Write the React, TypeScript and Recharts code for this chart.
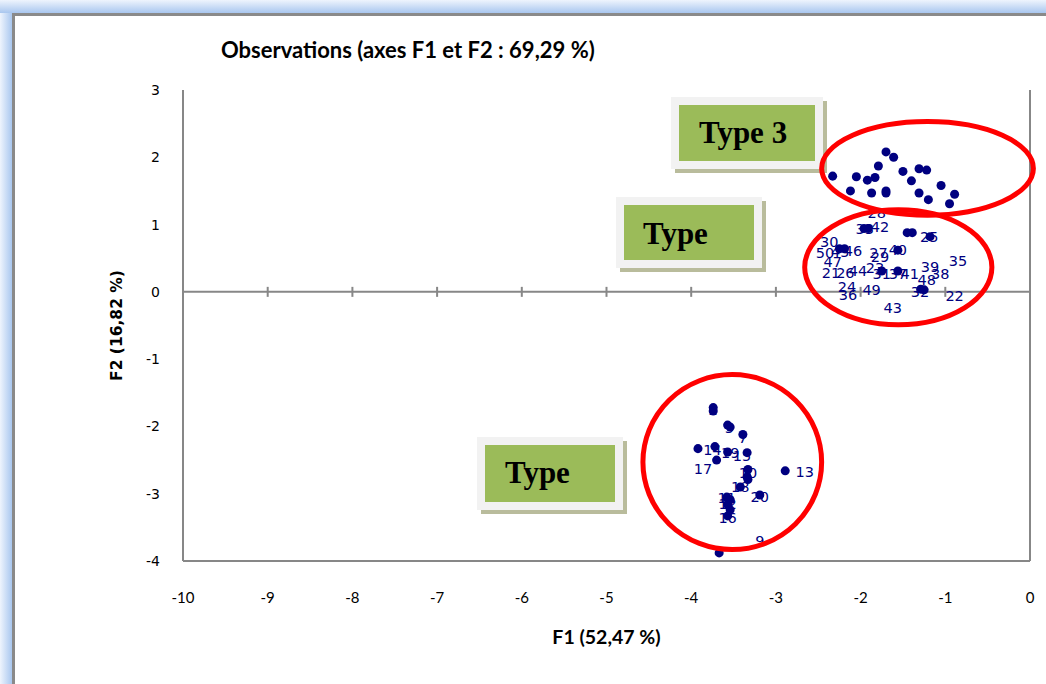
import React from 'react';
import {
  ScatterChart,
  Scatter,
  XAxis,
  YAxis,
  ReferenceLine,
  ReferenceArea,
} from 'recharts';

// axis ticks
const f1Ticks = [-10, -9, -8, -7, -6, -5, -4, -3, -2, -1, 0];
const f2Ticks = [-4, -3, -2, -1, 0, 1, 2, 3];
const innerF1Ticks = [-9, -8, -7, -6, -5, -4, -3, -2, -1];

// observations drawn as dots [F1, F2]
const type3Dots = [
  [-1.7, 2.08], [-1.61, 2.0], [-1.79, 1.87], [-2.33, 1.72], [-2.05, 1.71],
  [-1.92, 1.66], [-1.83, 1.7], [-1.5, 1.79], [-1.31, 1.83], [-1.22, 1.81],
  [-1.4, 1.65], [-1.05, 1.58], [-2.12, 1.5], [-1.87, 1.47], [-1.7, 1.5],
  [-1.7, 1.47], [-1.31, 1.47], [-1.2, 1.37], [-0.89, 1.45], [-0.95, 1.31],
];
const type2Dots = [
  [-1.96, 0.94], [-1.91, 0.94], [-1.45, 0.88], [-1.39, 0.88], [-1.18, 0.82],
  [-2.25, 0.64], [-2.19, 0.64], [-1.56, 0.62], [-1.75, 0.31], [-1.56, 0.31],
  [-1.29, 0.04], [-1.25, 0.03],
];
const type1Dots = [
  [-3.74, -1.72], [-3.74, -1.77], [-3.57, -1.98], [-3.54, -2.01], [-3.39, -2.12],
  [-3.92, -2.33], [-3.72, -2.3], [-3.57, -2.38], [-3.34, -2.39], [-3.7, -2.5],
  [-2.89, -2.66], [-3.33, -2.64], [-3.34, -2.75], [-3.33, -2.79], [-3.42, -2.9],
  [-3.19, -3.02], [-3.58, -3.05], [-3.54, -3.09], [-3.57, -3.16], [-3.54, -3.24],
  [-3.57, -3.33], [-3.67, -3.88],
];

// observation labels [name, F1, F2]
const type2Labels = [
  ['28', -1.81, 1.17], ['33', -1.95, 0.94], ['42', -1.77, 0.97], ['25', -1.19, 0.82],
  ['30', -2.37, 0.74], ['50', -2.42, 0.58], ['45', -2.24, 0.59], ['46', -2.09, 0.61],
  ['27', -1.79, 0.58], ['40', -1.56, 0.62], ['29', -1.77, 0.52], ['35', -0.85, 0.46],
  ['47', -2.33, 0.45], ['39', -1.18, 0.37], ['38', -1.06, 0.27], ['21', -2.35, 0.28],
  ['26', -2.18, 0.28], ['44', -2.03, 0.31], ['23', -1.83, 0.36], ['31', -1.75, 0.27],
  ['37', -1.56, 0.27], ['41', -1.42, 0.27], ['48', -1.22, 0.18], ['24', -2.16, 0.07],
  ['49', -1.87, 0.03], ['32', -1.3, 0.0], ['22', -0.89, -0.06], ['36', -2.15, -0.04],
  ['43', -1.62, -0.24],
];
const type1Labels = [
  ['2', -3.74, -1.75], ['5', -3.55, -2.03], ['7', -3.39, -2.17], ['14', -3.75, -2.35],
  ['19', -3.54, -2.39], ['15', -3.4, -2.44], ['17', -3.86, -2.64], ['10', -3.33, -2.69],
  ['13', -2.66, -2.67], ['18', -3.42, -2.9], ['20', -3.19, -3.05], ['11', -3.58, -3.06],
  ['12', -3.57, -3.16], ['16', -3.57, -3.36], ['9', -3.19, -3.71],
];

// red group outlines [f1 min, f1 max, f2 min, f2 max]
const groupOutlines = [
  [-2.46, 0.04, 1.14, 2.53],
  [-2.66, -0.45, -0.49, 1.22],
  [-4.57, -2.46, -3.83, -1.23],
];

const toPoints = (arr: number[][]) => arr.map(([x, y]) => ({ x, y }));
const toLabels = (arr: (string | number)[][]) =>
  arr.map(([name, x, y]) => ({ name, x, y }));

const AXIS = '#878787';
const NAVY = '#000080';

const LabelMark = (props: any) => (
  <text
    x={props.cx}
    y={props.cy}
    textAnchor="middle"
    dominantBaseline="central"
    fontFamily="DejaVu Sans, sans-serif"
    fontSize={14.5}
    fill={NAVY}
  >
    {props.payload.name}
  </text>
);

const ZeroTick = (props: any) => (
  <line x1={props.cx} x2={props.cx} y1={props.cy - 5} y2={props.cy + 5} stroke={AXIS} strokeWidth={2} />
);

const RightTick = (props: any) => (
  <line x1={props.x - 6} x2={props.x + 6} y1={props.y} y2={props.y} stroke={AXIS} strokeWidth={2} />
);

const OutlineShape = (props: any) => (
  <ellipse
    cx={props.x + props.width / 2}
    cy={props.y + props.height / 2}
    rx={props.width / 2}
    ry={props.height / 2}
    fill="none"
    stroke="#ff0000"
    strokeWidth={5}
  />
);

const XTitle = (props: any) => {
  const { x, y, width } = props.viewBox;
  return (
    <text x={x + width / 2} y={y + 83} textAnchor="middle" fontFamily="Lato, sans-serif" fontWeight="bold" fontSize={19.5} fill="#000">
      F1 (52,47 %)
    </text>
  );
};

const YTitle = (props: any) => {
  const { x, y, height } = props.viewBox;
  const cx = x + 117;
  const cy = y + height / 2;
  return (
    <text
      x={cx}
      y={cy}
      transform={`rotate(-90 ${cx} ${cy})`}
      textAnchor="middle"
      dominantBaseline="central"
      fontFamily="DejaVu Sans, sans-serif"
      fontWeight="bold"
      fontSize={15.5}
      fill="#000"
    >
      F2 (16,82 %)
    </text>
  );
};

const TypeBox = ({ x, y, w, h, text, tx, ty }: any) => (
  <g>
    <rect x={x + 4} y={y + h} width={w} height={4} fill="#b9bc9c" />
    <rect x={x + w} y={y + 4} width={4} height={h} fill="#b9bc9c" />
    <rect x={x} y={y} width={w} height={h} fill="#f2f2f2" />
    <rect x={x + 8} y={y + 8} width={w - 16} height={h - 16} fill="#9bbb59" />
    <text x={tx} y={ty} fontFamily="Liberation Serif, Times New Roman, serif" fontWeight="bold" fontSize={31} fill="#000">
      {text}
    </text>
  </g>
);

export default function App() {
  return (
    <div style={{ position: 'absolute', left: 0, top: 0, width: 1046, height: 684, overflow: 'hidden', background: '#fff' }}>
      <div style={{ position: 'absolute', left: 0, top: 0, width: 12, height: 684, background: 'linear-gradient(to right, #eef4fd, #a9c7ef)' }} />
      <div style={{ position: 'absolute', left: 0, top: 0, width: 1046, height: 13, background: 'linear-gradient(to bottom, #eef4fd, #a9c7ef)' }} />
      <div style={{ position: 'absolute', left: 12, top: 13, width: 3, height: 671, background: '#8a8a8a' }} />
      <div style={{ position: 'absolute', left: 12, top: 13, width: 1034, height: 3, background: '#8a8a8a' }} />
      <svg width={1046} height={684} style={{ position: 'absolute', left: 0, top: 0 }}>
        <text x={221} y={58} fontFamily="Lato, sans-serif" fontWeight="bold" fontSize={22} fill="#000">
          Observations (axes F1 et F2 : 69,29 %)
        </text>
        <TypeBox x={671} y={97} w={152} h={72} text="Type 3" tx={699} ty={143} />
        <TypeBox x={616} y={197} w={146} h={71} text="Type" tx={643} ty={244} />
        <TypeBox x={477} y={437} w={146} h={73} text="Type" tx={505} ty={483} />
      </svg>
      <div style={{ position: 'absolute', left: 0, top: 0 }}>
        <ScatterChart width={1046} height={684} margin={{ top: 90, right: 0, bottom: 0, left: 0 }}>
          <XAxis
            xAxisId="b"
            type="number"
            dataKey="x"
            domain={[-10, 0]}
            ticks={f1Ticks}
            allowDataOverflow
            height={123}
            axisLine={{ stroke: AXIS, strokeWidth: 2 }}
            tickLine={false}
            tickSize={0}
            tickMargin={31}
            tick={{ fill: '#000', fontSize: 15, fontFamily: 'Lato, sans-serif' }}
            label={XTitle}
          />
          <XAxis
            xAxisId="t"
            orientation="top"
            type="number"
            domain={[-10, 0]}
            height={0}
            tick={false}
            tickLine={false}
            axisLine={{ stroke: AXIS, strokeWidth: 2 }}
          />
          <YAxis
            yAxisId="l"
            type="number"
            dataKey="y"
            domain={[-4, 3]}
            ticks={f2Ticks}
            allowDataOverflow
            width={183}
            axisLine={{ stroke: AXIS, strokeWidth: 2 }}
            tickLine={false}
            tickSize={0}
            tickMargin={23}
            tick={{ fill: '#000', fontSize: 14, fontFamily: 'DejaVu Sans, sans-serif' }}
            label={YTitle}
          />
          <YAxis
            yAxisId="r"
            orientation="right"
            type="number"
            domain={[-4, 3]}
            ticks={f2Ticks}
            width={16}
            axisLine={{ stroke: AXIS, strokeWidth: 2 }}
            tickLine={false}
            tickSize={0}
            tickMargin={0}
            tick={RightTick}
          />
          <ReferenceLine xAxisId="b" yAxisId="l" y={0} stroke={AXIS} strokeWidth={2} />
          <Scatter xAxisId="b" yAxisId="l" data={innerF1Ticks.map((x) => ({ x, y: 0 }))} shape={ZeroTick} isAnimationActive={false} />
          <Scatter xAxisId="b" yAxisId="l" name="Type 1 labels" data={toLabels(type1Labels)} shape={LabelMark} isAnimationActive={false} />
          <Scatter xAxisId="b" yAxisId="l" name="Type 2 labels" data={toLabels(type2Labels)} shape={LabelMark} isAnimationActive={false} />
          <Scatter xAxisId="b" yAxisId="l" name="Type 1" data={toPoints(type1Dots)} fill={NAVY} isAnimationActive={false} />
          <Scatter xAxisId="b" yAxisId="l" name="Type 2" data={toPoints(type2Dots)} fill={NAVY} isAnimationActive={false} />
          <Scatter xAxisId="b" yAxisId="l" name="Type 3" data={toPoints(type3Dots)} fill={NAVY} isAnimationActive={false} />
          {groupOutlines.map(([x1, x2, y1, y2], i) => (
            <ReferenceArea
              key={i}
              xAxisId="b"
              yAxisId="l"
              x1={x1}
              x2={x2}
              y1={y1}
              y2={y2}
              ifOverflow="visible"
              zIndex={1000}
              shape={OutlineShape}
            />
          ))}
        </ScatterChart>
      </div>
    </div>
  );
}
